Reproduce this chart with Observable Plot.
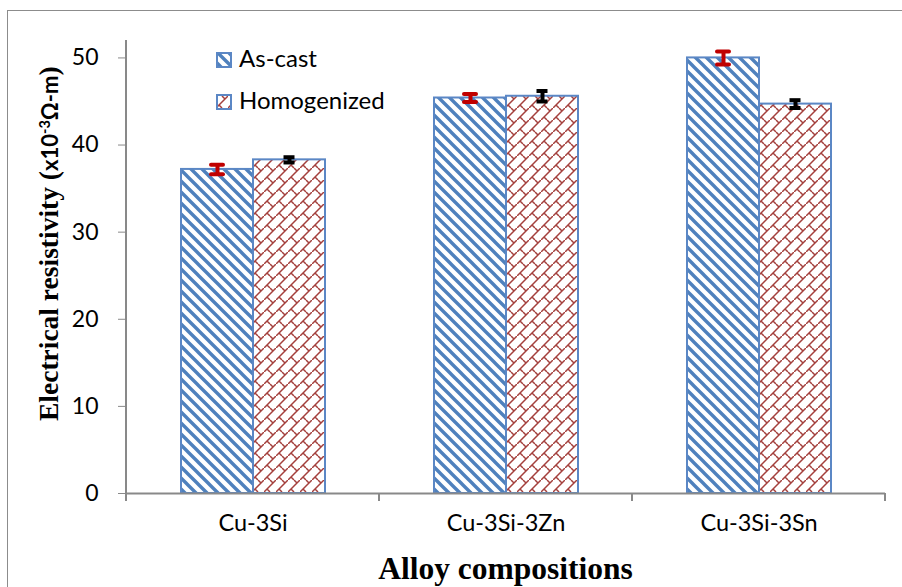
<!DOCTYPE html>
<html><head><meta charset="utf-8">
<script src="https://cdn.jsdelivr.net/npm/d3@7"></script>
<script src="https://cdn.jsdelivr.net/npm/@observablehq/plot@0.6"></script>
<style>
body{margin:0;background:#fff;overflow:hidden}
#wrap{position:relative;width:902px;height:587px;overflow:hidden;background:#fff}
#frame{position:absolute;left:7px;top:10px;width:1000px;height:1000px;border:1.5px solid #8c8c8c;box-sizing:border-box;pointer-events:none}
#chart{position:absolute;left:0;top:0}
</style></head><body><div id="wrap"><div id="chart"></div><div id="frame"></div></div>
<script>
const alloys = ["Cu-3Si", "Cu-3Si-3Zn", "Cu-3Si-3Sn"];
const conditions = ["As-cast", "Homogenized"];
const asCast = [37.2, 45.4, 50.0];
const asCastErr = [0.55, 0.45, 0.75];
const homogenized = [38.3, 45.6, 44.7];
const homogenizedErr = [0.3, 0.6, 0.45];
const yTicks = [0, 10, 20, 30, 40, 50];
const yMax = 52;

const rows = [];
alloys.forEach((a, i) => {
  rows.push({alloy: a, condition: conditions[0], value: asCast[i], err: asCastErr[i]});
  rows.push({alloy: a, condition: conditions[1], value: homogenized[i], err: homogenizedErr[i]});
});
const sans = "Lato, 'Open Sans', sans-serif";
const serif = "'Liberation Serif', 'DejaVu Serif', serif";
const errColor = {"As-cast": "#C00000", "Homogenized": "#000000"};

const plot = Plot.plot({
  width: 902, height: 587,
  marginLeft: 126, marginRight: 17, marginTop: 40, marginBottom: 94,
  style: {background: "transparent", overflow: "visible"},
  fx: {domain: alloys, padding: 0, axis: null, label: null},
  x: {domain: conditions, paddingInner: 0, paddingOuter: 0.733, axis: null},
  y: {domain: [0, yMax], axis: null},
  marks: [
    Plot.barY(rows.filter(d => d.condition === "As-cast"), {fx: "alloy", x: "condition", y: "value", fill: "url(#pAsCast)", stroke: "#5B87C5", strokeWidth: 2}),
    Plot.barY(rows.filter(d => d.condition === "Homogenized"), {fx: "alloy", x: "condition", y: "value", fill: "url(#pHomog)", stroke: "#5B87C5", strokeWidth: 2}),
    Plot.ruleY([0], {stroke: "#898989", strokeWidth: 2}),
    Plot.ruleX(rows, {fx: "alloy", x: "condition", y1: d => d.value - d.err, y2: d => d.value + d.err, stroke: d => errColor[d.condition], strokeWidth: 4}),
    Plot.tickY(rows.filter(d => d.condition === "As-cast"), {fx: "alloy", x: "condition", y: d => d.value + d.err, stroke: errColor["As-cast"], strokeWidth: 4, strokeLinecap: "round", inset: 30}),
    Plot.tickY(rows.filter(d => d.condition === "As-cast"), {fx: "alloy", x: "condition", y: d => d.value - d.err, stroke: errColor["As-cast"], strokeWidth: 4, strokeLinecap: "round", inset: 30}),
    Plot.tickY(rows.filter(d => d.condition === "Homogenized"), {fx: "alloy", x: "condition", y: d => d.value + d.err, stroke: errColor["Homogenized"], strokeWidth: 4, inset: 30.5}),
    Plot.tickY(rows.filter(d => d.condition === "Homogenized"), {fx: "alloy", x: "condition", y: d => d.value - d.err, stroke: errColor["Homogenized"], strokeWidth: 4, inset: 30.5}),
    Plot.axisY({ticks: yTicks, tickSize: 8, tickPadding: 20, stroke: "#898989", fill: "#000", fontSize: 23, fontFamily: sans, label: null}),
    Plot.axisFx({anchor: "bottom", tickSize: 0, tickPadding: 21, fontSize: 23.5, fontFamily: sans, fill: "#000", label: null})
  ]
});

const svg = d3.select(plot);
svg.style("font-family", sans);
const defs = svg.insert("defs", ":first-child");
const p1 = defs.append("pattern").attr("id", "pAsCast").attr("patternUnits", "userSpaceOnUse").attr("width", 11).attr("height", 11);
p1.append("rect").attr("width", 11).attr("height", 11).attr("fill", "#fff");
p1.append("path").attr("d", "M-1,-1L12,12M-6.5,4.5L6.5,17.5M4.5,-6.5L17.5,6.5").attr("stroke", "#4F81BD").attr("stroke-width", 3.4).attr("fill", "none");
const p2 = defs.append("pattern").attr("id", "pHomog").attr("patternUnits", "userSpaceOnUse").attr("width", 12).attr("height", 12);
p2.append("rect").attr("width", 12).attr("height", 12).attr("fill", "#fff");
p2.append("path").attr("d", "M-1,13L13,-1M3,9L6,12M6,0L9,3").attr("stroke", "#A4403D").attr("stroke-width", 1.5).attr("fill", "none");

const ys = plot.scale("y");
const fxs = plot.scale("fx");
const y0 = ys.apply(0), yTop = ys.apply(yMax);
const left = fxs.apply(alloys[0]);
svg.append("line").attr("x1", left).attr("x2", left).attr("y1", yTop).attr("y2", y0 + 1).attr("stroke", "#898989").attr("stroke-width", 2);
const bounds = alloys.map(a => fxs.apply(a)).concat([fxs.apply(alloys[alloys.length - 1]) + fxs.bandwidth]);
bounds.forEach(b => svg.append("line").attr("x1", b).attr("x2", b).attr("y1", y0).attr("y2", y0 + 8).attr("stroke", "#898989").attr("stroke-width", 2));

const xMid = (left + bounds[bounds.length - 1]) / 2;
svg.append("text").attr("x", xMid).attr("y", 579).attr("text-anchor", "middle")
  .attr("font-family", serif).attr("font-weight", "bold").attr("font-size", 31.5).text("Alloy compositions");
const yt = svg.append("text").attr("transform", "translate(58,421) rotate(-90)").attr("text-anchor", "start").attr("font-weight", "bold");
yt.append("tspan").attr("font-family", serif).attr("font-size", 27.5).text("Electrical resistivity (");
yt.append("tspan").attr("font-family", sans).attr("font-size", 22).text("x10");
yt.append("tspan").attr("font-family", sans).attr("font-size", 14.5).attr("dy", -8).text("-3");
yt.append("tspan").attr("font-family", sans).attr("font-size", 22).attr("dy", 8).text("Ω-m");
yt.append("tspan").attr("font-family", serif).attr("font-size", 27.5).text(")");

const leg = svg.append("g").attr("font-family", sans).attr("font-size", 24).attr("text-anchor", "start");
[["As-cast", "url(#pAsCast)", 53], ["Homogenized", "url(#pHomog)", 95]].forEach(([lab, fill, y]) => {
  leg.append("rect").attr("x", 217).attr("y", y).attr("width", 14).attr("height", 14).attr("fill", fill).attr("stroke", "#5B87C5").attr("stroke-width", 2);
  leg.append("text").attr("x", 239).attr("y", y + 14).text(lab);
});

document.getElementById("chart").appendChild(plot);
</script></body></html>
